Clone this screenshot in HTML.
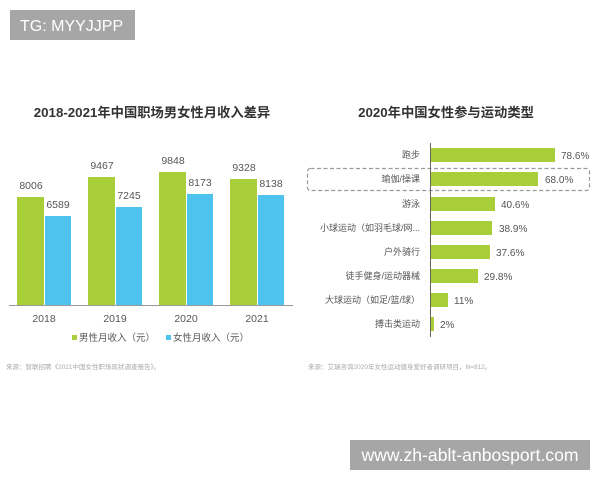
<!DOCTYPE html>
<html><head><meta charset="utf-8"><style>
html,body{margin:0;padding:0;background:#fff;}
svg{display:block;}
text{font-family:"Liberation Sans","Noto Sans CJK SC",sans-serif;}
</style></head><body>
<svg width="600" height="480" viewBox="0 0 600 480" xmlns="http://www.w3.org/2000/svg">
<rect width="600" height="480" fill="#fff"/>
<!-- top-left watermark -->
<rect x="10" y="10" width="125" height="30" fill="#a6a6a6"/>
<text x="20" y="31" font-size="16" fill="#fff">TG: MYYJJPP</text>

<!-- left chart -->
<text x="152" y="117" font-size="13.3" font-weight="bold" fill="#333" text-anchor="middle">2018-2021年中国职场男女性月收入差异</text>
<g fill="#a8cf3a">
<rect x="17" y="197" width="27" height="108"/>
<rect x="88" y="177" width="27" height="128"/>
<rect x="159" y="172" width="27" height="133"/>
<rect x="230" y="179" width="27" height="126"/>
</g>
<g fill="#4ec3ee">
<rect x="45" y="216" width="26" height="89"/>
<rect x="116" y="207" width="26" height="98"/>
<rect x="187" y="194" width="26" height="111"/>
<rect x="258" y="195" width="26" height="110"/>
</g>
<line x1="9" y1="305.5" x2="293" y2="305.5" stroke="#999" stroke-width="1"/>
<g font-size="10.5" fill="#555" text-anchor="middle">
<text x="31" y="189">8006</text>
<text x="58" y="208">6589</text>
<text x="102" y="169">9467</text>
<text x="129" y="199">7245</text>
<text x="173" y="164">9848</text>
<text x="200" y="186">8173</text>
<text x="244" y="171">9328</text>
<text x="271" y="187">8138</text>
</g>
<g font-size="10.5" fill="#555" text-anchor="middle">
<text x="44" y="322">2018</text>
<text x="115" y="322">2019</text>
<text x="186" y="322">2020</text>
<text x="257" y="322">2021</text>
</g>
<rect x="72" y="335" width="5" height="5" fill="#a8cf3a"/>
<text x="79" y="341" font-size="9.5" fill="#555">男性月收入（元）</text>
<rect x="166" y="335" width="5" height="5" fill="#4ec3ee"/>
<text x="173" y="341" font-size="9.5" fill="#555">女性月收入（元）</text>
<text x="6" y="369" font-size="6.5" fill="#aaa">来源：智联招聘《2021中国女性职场现状调查报告》。</text>

<!-- right chart -->
<text x="446" y="117" font-size="13.3" font-weight="bold" fill="#333" text-anchor="middle">2020年中国女性参与运动类型</text>
<rect x="307.5" y="168.5" width="282" height="22" rx="3" fill="none" stroke="#9a9a9a" stroke-width="1.2" stroke-dasharray="4,2.5"/>
<g fill="#a8cf3a">
<rect x="431" y="148" width="124" height="14"/>
<rect x="431" y="172" width="107" height="14"/>
<rect x="431" y="197" width="64" height="14"/>
<rect x="431" y="221" width="61" height="14"/>
<rect x="431" y="245" width="59" height="14"/>
<rect x="431" y="269" width="47" height="14"/>
<rect x="431" y="293" width="17" height="14"/>
<rect x="431" y="317" width="3" height="14"/>
</g>
<line x1="430.5" y1="143" x2="430.5" y2="337" stroke="#666" stroke-width="1"/>
<g font-size="9" fill="#555" text-anchor="end">
<text x="420" y="158">跑步</text>
<text x="420" y="182">瑜伽/操课</text>
<text x="420" y="207">游泳</text>
<text x="420" y="231">小球运动（如羽毛球/网...</text>
<text x="420" y="255">户外骑行</text>
<text x="420" y="279">徒手健身/运动器械</text>
<text x="420" y="303">大球运动（如足/篮/球）</text>
<text x="420" y="327">搏击类运动</text>
</g>
<g font-size="10" fill="#555">
<text x="561" y="159">78.6%</text>
<text x="545" y="183">68.0%</text>
<text x="501" y="208">40.6%</text>
<text x="499" y="232">38.9%</text>
<text x="496" y="256">37.6%</text>
<text x="484" y="280">29.8%</text>
<text x="454" y="304">11%</text>
<text x="440" y="328">2%</text>
</g>
<text x="308" y="369" font-size="6.5" fill="#aaa">来源：艾瑞咨询2020年女性运动健身爱好者调研项目，N=812。</text>

<!-- bottom-right watermark -->
<rect x="350" y="440" width="240" height="30" fill="#a6a6a6"/>
<text x="470" y="461" font-size="17.6" fill="#fff" text-anchor="middle">www.zh-ablt-anbosport.com</text>
</svg>
</body></html>
